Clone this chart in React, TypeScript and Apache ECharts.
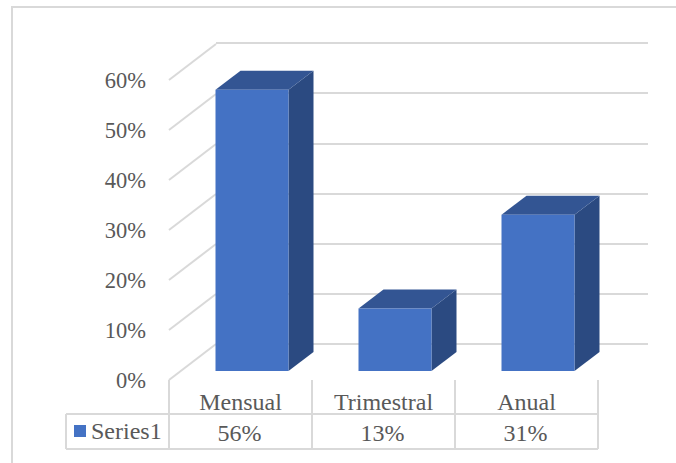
import React, { useEffect, useRef } from "react";
import * as echarts from "echarts";

const categories = ["Mensual", "Trimestral", "Anual"];
const seriesName = "Series1";
const values = [56.25, 12.5, 31.25];
const tickValues = [0, 10, 20, 30, 40, 50, 60];

const FONT = "'Liberation Serif', 'Times New Roman', serif";
const TEXT = "#595959";
const LINE = "#D9D9D9";
const FRONT = "#4472C4";
const SIDE = "#2B4A81";
const TOP = "#335593";

const FRONT_LEFT = 169;
const FRONT_RIGHT = 598;
const FRONT_TOP = 80;
const FRONT_BOTTOM = 380;
const TABLE_MID = 414;
const TABLE_BOTTOM = 449;
const TABLE_LEFT = 66;
const DEPTH_X = 47;
const DEPTH_Y = 36;
const W = 676;
const H = 463;

const line = (x1: number, y1: number, x2: number, y2: number, width = 2) => ({
  type: "line",
  silent: true,
  shape: { x1, y1, x2, y2 },
  style: { stroke: LINE, lineWidth: width },
});

export default function App() {
  const ref = useRef<HTMLDivElement>(null);
  useEffect(() => {
    const chart = echarts.init(ref.current!, undefined, { renderer: "svg" });
    chart.setOption({
      animation: false,
      backgroundColor: "#fff",
      textStyle: { fontFamily: FONT },
      legend: {
        left: 74 - 5,
        top: 414,
        padding: 5,
        selectedMode: false,
        itemWidth: 12,
        itemHeight: 12,
        itemGap: 0,
        icon: "rect",
        data: [seriesName],
        textStyle: { fontFamily: FONT, fontSize: 24, color: TEXT, lineHeight: 12, padding: [0, 0, 0, 0] },
      },
      grid: [
        { left: FRONT_LEFT, top: FRONT_TOP, width: FRONT_RIGHT - FRONT_LEFT, height: FRONT_BOTTOM - FRONT_TOP },
        {
          left: FRONT_LEFT + DEPTH_X,
          top: FRONT_TOP - DEPTH_Y - 1,
          width: FRONT_RIGHT - FRONT_LEFT + 3,
          height: FRONT_BOTTOM - FRONT_TOP + 1,
        },
      ],
      xAxis: [
        {
          type: "category",
          gridIndex: 0,
          data: categories,
          axisLine: { show: false },
          axisTick: { show: false },
          axisLabel: { fontFamily: FONT, fontSize: 24, color: TEXT, margin: 10 },
        },
        { type: "category", gridIndex: 1, data: categories, show: false },
      ],
      yAxis: [
        {
          type: "value",
          gridIndex: 0,
          min: 0,
          max: 60,
          interval: 10,
          splitLine: { show: false },
          axisLine: { show: false },
          axisTick: { show: false },
          axisLabel: {
            fontFamily: FONT,
            fontSize: 22.5,
            color: TEXT,
            margin: 23,
            padding: [6, 0, 0, 0],
            formatter: "{value}%",
          },
        },
        {
          type: "value",
          gridIndex: 1,
          min: 0,
          max: 60,
          interval: 10,
          axisLine: { show: false },
          axisTick: { show: false },
          axisLabel: { show: false },
          splitLine: { show: true, lineStyle: { color: LINE, width: 2 } },
        },
      ],
      graphic: [
        line(12, 7, 12, H),
        line(11, 7, W, 7),
        line(TABLE_LEFT, TABLE_MID, FRONT_RIGHT, TABLE_MID),
        line(TABLE_LEFT, TABLE_BOTTOM, FRONT_RIGHT, TABLE_BOTTOM),
        line(TABLE_LEFT, TABLE_MID, TABLE_LEFT, TABLE_BOTTOM),
        line(169, FRONT_BOTTOM, 169, TABLE_BOTTOM),
        line(312, FRONT_BOTTOM, 312, TABLE_BOTTOM),
        line(455, FRONT_BOTTOM, 455, TABLE_BOTTOM),
        line(598, FRONT_BOTTOM, 598, TABLE_BOTTOM),
      ],
      series: [
        {
          // wall-to-front diagonals, one per value tick
          type: "custom",
          name: "ticks",
          xAxisIndex: 0,
          yAxisIndex: 0,
          silent: true,
          z: 1,
          data: tickValues.map((v) => [0, v]),
          renderItem: (_p: any, api: any) => {
            const y = api.coord([0, api.value(1)])[1];
            return {
              type: "line",
              shape: { x1: FRONT_LEFT, y1: y, x2: FRONT_LEFT + DEPTH_X, y2: y - DEPTH_Y },
              style: { stroke: LINE, lineWidth: 2 },
            };
          },
        },
        {
          type: "custom",
          name: seriesName,
          xAxisIndex: 0,
          yAxisIndex: 0,
          silent: true,
          z: 3,
          itemStyle: { color: FRONT },
          data: values.map((v, i) => [i, v]),
          renderItem: (_p: any, api: any) => {
            const i = api.value(0);
            const v = api.value(1);
            const [cx, yTop] = api.coord([i, v]);
            const yBase = api.coord([i, 0])[1];
            const barW = 73;
            const gapX = 11.5;
            const gapY = 9;
            const dx = 25;
            const dy = 19;
            const x0 = cx + gapX - barW / 2;
            const x1 = x0 + barW;
            const yT = yBase - gapY - (yBase - yTop);
            const yB = yBase - gapY;
            return {
              type: "group",
              children: [
                {
                  type: "polygon",
                  shape: { points: [[x1, yT], [x1 + dx, yT - dy], [x1 + dx, yB - dy], [x1, yB]] },
                  style: { fill: SIDE },
                },
                {
                  type: "polygon",
                  shape: { points: [[x0, yT], [x0 + dx, yT - dy], [x1 + dx, yT - dy], [x1, yT]] },
                  style: { fill: TOP },
                },
                { type: "rect", shape: { x: x0, y: yT, width: barW, height: yB - yT }, style: { fill: FRONT } },
                {
                  type: "text",
                  style: {
                    text: `${Math.round(v)}%`,
                    x: cx - 1,
                    y: (TABLE_MID + TABLE_BOTTOM) / 2 + 1,
                    align: "center",
                    verticalAlign: "middle",
                    fontFamily: FONT,
                    fontSize: 24,
                    fill: TEXT,
                  },
                },
              ],
            };
          },
        },
      ],
    });
    return () => chart.dispose();
  }, []);
  return <div ref={ref} style={{ width: W, height: H, position: "fixed", left: 0, top: 0 }} />;
}
